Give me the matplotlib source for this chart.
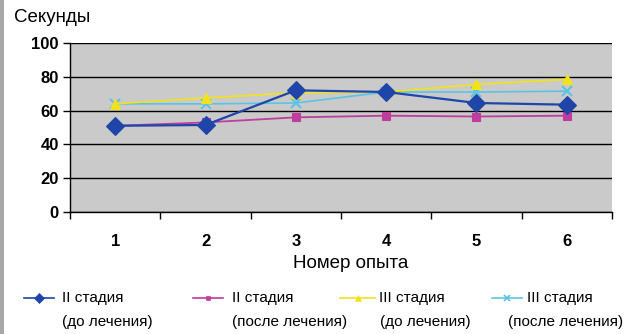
import matplotlib
matplotlib.use("Agg")
import matplotlib.pyplot as plt
from matplotlib.lines import Line2D
from matplotlib.patches import Rectangle

plt.rcParams['font.family'] = ['Liberation Sans', 'DejaVu Sans']

trials = [1, 2, 3, 4, 5, 6]
st2_before = [51, 51.5, 72, 71, 64.5, 63.5]
st2_after = [51, 53, 56, 57, 56.5, 57]
st3_before = [64, 67.5, 70.5, 71, 75.5, 78.5]
st3_after = [64, 64, 64.5, 71, 71, 71.5]

y_ticks = [0, 20, 40, 60, 80, 100]

series = [
    (st2_before, '#1f45a8', 'D', 9, 1.6, "II стадия", "(до лечения)"),
    (st2_after, '#c03c9e', 's', 6, 1.3, "II стадия", "(после лечения)"),
    (st3_before, '#f2e21c', '^', 6.5, 1.2, "III стадия", "(до лечения)"),
    (st3_after, '#5cc3e6', 'x', 6.5, 1.2, "III стадия", "(после лечения)"),
]

fig = plt.figure(figsize=(6.32, 3.34), dpi=100)
fig.patch.set_facecolor('white')
# grey stripe on the left edge
fig.add_artist(Rectangle((0, 0), 4 / 632, 1, transform=fig.transFigure,
                         color='#a8a8a8', lw=0))

ax = fig.add_axes([70 / 632, 1 - 212 / 334, 542 / 632, 169 / 334])
ax.set_facecolor('#cacaca')

# draw order: cyan/yellow/magenta under the blue line
for vals, col, mk, ms, lw, l1, l2 in [series[3], series[2], series[1], series[0]]:
    ax.plot(trials, vals, color=col, lw=lw, marker=mk, markersize=ms,
            markeredgecolor=col, markeredgewidth=1.5 if mk == 'x' else 0.8,
            zorder=3)

ax.set_xlim(0.5, 6.5)
ax.set_ylim(0, 100)
ax.set_yticks(y_ticks)
ax.set_yticklabels([str(v) for v in y_ticks], fontweight='bold', fontsize=12)
ax.set_xticks(trials)
ax.set_xticklabels([str(t) for t in trials], fontweight='bold', fontsize=12)
ax.tick_params(axis='x', length=0, pad=16)
ax.set_xticks([t + 0.5 for t in [0] + trials], minor=True)
ax.tick_params(axis='x', which='minor', length=5, direction='out', width=1)
ax.tick_params(axis='y', length=5, width=1, pad=3)
ax.yaxis.grid(True, color='black', lw=1)
ax.set_axisbelow(True)
for side in ['top', 'right']:
    ax.spines[side].set_visible(False)
ax.spines['left'].set_linewidth(1)
ax.spines['bottom'].set_linewidth(1)

fig.text(14 / 632, 1 - 17 / 334, "Секунды", fontsize=13.5, va='center', ha='left')
fig.text(351 / 632, 1 - 264 / 334, "Номер опыта", fontsize=13.5, va='center', ha='center')

# legend drawn by hand, handle next to first line of each entry
# (line start, line end, first text x, second text x)
leg_x = [(24, 54, 62, 62), (193, 223, 232, 232), (340, 375, 379, 380), (492, 522, 527, 508)]
row1 = 1 - 298 / 334
row2 = 1 - 322 / 334
for (x0, x1, tx1, tx2), (vals, col, mk, ms, lw, l1, l2) in zip(leg_x, series):
    fig.add_artist(Line2D([x0 / 632, x1 / 632], [row1, row1], transform=fig.transFigure,
                          color=col, lw=1.2))
    fig.add_artist(Line2D([(x0 + x1) / 2 / 632], [row1], transform=fig.transFigure,
                          color=col, marker=mk, markersize=ms * 0.6,
                          markeredgewidth=1.2 if mk == 'x' else 0.5))
    fig.text(tx1 / 632, row1, l1, fontsize=11, va='center', ha='left')
    fig.text(tx2 / 632, row2, l2, fontsize=11, va='center', ha='left')

fig.savefig("out.png", dpi=100)
